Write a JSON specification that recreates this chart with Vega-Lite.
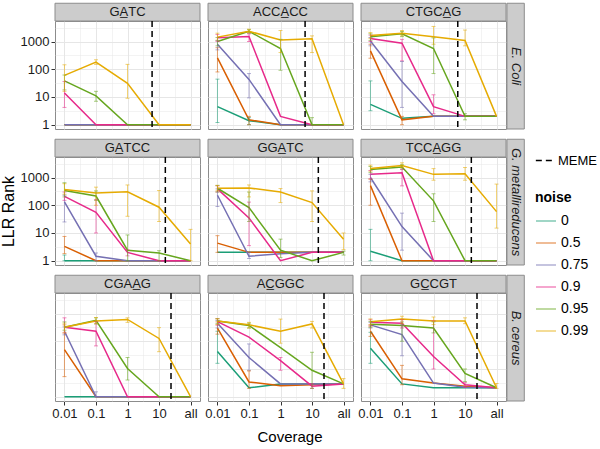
{
"$schema": "https://vega.github.io/schema/vega-lite/v6.json",
"padding": {"left": 0, "top": 2, "right": 2, "bottom": 0},
"config": {"font": "Liberation Sans", "view": {"stroke": "#8c8c8c", "strokeWidth": 1},
  "axis": {"domain": false, "gridColor": "#e6e6e6", "labelColor": "#1a1a1a", "tickColor": "#333333", "titleFontWeight": "normal", "titleColor": "#000000", "labelOverlap": false},
  "legend": {"symbolType": "stroke", "labelFontSize": 14, "titleFontSize": 14, "titleFontWeight": "bold", "symbolSize": 400, "symbolStrokeWidth": 1.5, "rowPadding": 4}},
"datasets": {"d": [
{"o":"E","m":"GATC","t":"GA\u0332TC","meme":2.78,"lab":"E. Coli","last":false},
{"o":"E","m":"ACCACC","t":"ACCA\u0332CC","meme":2.78,"lab":"E. Coli","last":false},
{"o":"E","m":"CTGCAG","t":"CTGCA\u0332G","meme":2.77,"lab":"E. Coli","last":true},
{"o":"G","m":"GATCC","t":"GA\u0332TCC","meme":3.2,"lab":"G. metallireducens","last":false},
{"o":"G","m":"GGATC","t":"GGA\u0332TC","meme":3.2,"lab":"G. metallireducens","last":false},
{"o":"G","m":"TCCAGG","t":"TCCA\u0332GG","meme":3.2,"lab":"G. metallireducens","last":true},
{"o":"B","m":"CGAAG","t":"CGAA\u0332G","meme":3.38,"lab":"B. cereus","last":false},
{"o":"B","m":"ACGGC","t":"AC\u0332GGC","meme":3.38,"lab":"B. cereus","last":false},
{"o":"B","m":"GCCGT","t":"GC\u0332CGT","meme":3.38,"lab":"B. cereus","last":true},

{"o":"E","m":"GATC","n":"0","c":0,"r":1},{"o":"E","m":"GATC","n":"0","c":1,"r":1},{"o":"E","m":"GATC","n":"0","c":2,"r":1},{"o":"E","m":"GATC","n":"0","c":3,"r":1},{"o":"E","m":"GATC","n":"0","c":4,"r":1},
{"o":"E","m":"GATC","n":"0.5","c":0,"r":1},{"o":"E","m":"GATC","n":"0.5","c":1,"r":1},{"o":"E","m":"GATC","n":"0.5","c":2,"r":1},{"o":"E","m":"GATC","n":"0.5","c":3,"r":1},{"o":"E","m":"GATC","n":"0.5","c":4,"r":1},
{"o":"E","m":"GATC","n":"0.75","c":0,"r":1},{"o":"E","m":"GATC","n":"0.75","c":1,"r":1},{"o":"E","m":"GATC","n":"0.75","c":2,"r":1},{"o":"E","m":"GATC","n":"0.75","c":3,"r":1},{"o":"E","m":"GATC","n":"0.75","c":4,"r":1},
{"o":"E","m":"GATC","n":"0.9","c":0,"r":14,"lo":4.2,"hi":36},{"o":"E","m":"GATC","n":"0.9","c":1,"r":1},{"o":"E","m":"GATC","n":"0.9","c":2,"r":1},{"o":"E","m":"GATC","n":"0.9","c":3,"r":1},{"o":"E","m":"GATC","n":"0.9","c":4,"r":1},
{"o":"E","m":"GATC","n":"0.95","c":0,"r":38,"lo":18,"hi":62},{"o":"E","m":"GATC","n":"0.95","c":1,"r":11,"lo":7,"hi":16},{"o":"E","m":"GATC","n":"0.95","c":2,"r":1},{"o":"E","m":"GATC","n":"0.95","c":3,"r":1},{"o":"E","m":"GATC","n":"0.95","c":4,"r":1},
{"o":"E","m":"GATC","n":"0.99","c":0,"r":60,"lo":16,"hi":145},{"o":"E","m":"GATC","n":"0.99","c":1,"r":180,"lo":150,"hi":220},{"o":"E","m":"GATC","n":"0.99","c":2,"r":31,"lo":9,"hi":150},{"o":"E","m":"GATC","n":"0.99","c":3,"r":1},{"o":"E","m":"GATC","n":"0.99","c":4,"r":1},

{"o":"E","m":"ACCACC","n":"0","c":0,"r":4.5,"lo":1.2,"hi":44},{"o":"E","m":"ACCACC","n":"0","c":1,"r":1.4,"lo":1,"hi":1.8},{"o":"E","m":"ACCACC","n":"0","c":2,"r":1},{"o":"E","m":"ACCACC","n":"0","c":3,"r":1},{"o":"E","m":"ACCACC","n":"0","c":4,"r":1},
{"o":"E","m":"ACCACC","n":"0.5","c":0,"r":256,"lo":80,"hi":600},{"o":"E","m":"ACCACC","n":"0.5","c":1,"r":1.5,"lo":1,"hi":2},{"o":"E","m":"ACCACC","n":"0.5","c":2,"r":1},{"o":"E","m":"ACCACC","n":"0.5","c":3,"r":1},{"o":"E","m":"ACCACC","n":"0.5","c":4,"r":1},
{"o":"E","m":"ACCACC","n":"0.75","c":0,"r":790,"lo":500,"hi":1100},{"o":"E","m":"ACCACC","n":"0.75","c":1,"r":43,"lo":9.3,"hi":70},{"o":"E","m":"ACCACC","n":"0.75","c":2,"r":1},{"o":"E","m":"ACCACC","n":"0.75","c":3,"r":1},{"o":"E","m":"ACCACC","n":"0.75","c":4,"r":1},
{"o":"E","m":"ACCACC","n":"0.9","c":0,"r":1360,"lo":1000,"hi":1800},{"o":"E","m":"ACCACC","n":"0.9","c":1,"r":1520,"lo":1000,"hi":1900},{"o":"E","m":"ACCACC","n":"0.9","c":2,"r":2},{"o":"E","m":"ACCACC","n":"0.9","c":3,"r":1},{"o":"E","m":"ACCACC","n":"0.9","c":4,"r":1},
{"o":"E","m":"ACCACC","n":"0.95","c":0,"r":1000,"lo":700,"hi":1400},{"o":"E","m":"ACCACC","n":"0.95","c":1,"r":2350,"lo":2000,"hi":2700},{"o":"E","m":"ACCACC","n":"0.95","c":2,"r":560,"lo":92,"hi":1200},{"o":"E","m":"ACCACC","n":"0.95","c":3,"r":1,"lo":1,"hi":1.8},{"o":"E","m":"ACCACC","n":"0.95","c":4,"r":1},
{"o":"E","m":"ACCACC","n":"0.99","c":0,"r":1440,"lo":1100,"hi":2000},{"o":"E","m":"ACCACC","n":"0.99","c":1,"r":2350,"lo":2100,"hi":2800},{"o":"E","m":"ACCACC","n":"0.99","c":2,"r":1130,"lo":400,"hi":2500},{"o":"E","m":"ACCACC","n":"0.99","c":3,"r":1260,"lo":400,"hi":1600},{"o":"E","m":"ACCACC","n":"0.99","c":4,"r":1},

{"o":"E","m":"CTGCAG","n":"0","c":0,"r":5.4,"lo":3.2,"hi":38},{"o":"E","m":"CTGCAG","n":"0","c":1,"r":1.7},{"o":"E","m":"CTGCAG","n":"0","c":2,"r":2},{"o":"E","m":"CTGCAG","n":"0","c":3,"r":2},{"o":"E","m":"CTGCAG","n":"0","c":4,"r":2},
{"o":"E","m":"CTGCAG","n":"0.5","c":0,"r":460,"lo":250,"hi":800},{"o":"E","m":"CTGCAG","n":"0.5","c":1,"r":1.5,"lo":1,"hi":2},{"o":"E","m":"CTGCAG","n":"0.5","c":2,"r":2},{"o":"E","m":"CTGCAG","n":"0.5","c":3,"r":2},{"o":"E","m":"CTGCAG","n":"0.5","c":4,"r":2},
{"o":"E","m":"CTGCAG","n":"0.75","c":0,"r":1040,"lo":700,"hi":1400},{"o":"E","m":"CTGCAG","n":"0.75","c":1,"r":36,"lo":4.2,"hi":190},{"o":"E","m":"CTGCAG","n":"0.75","c":2,"r":2},{"o":"E","m":"CTGCAG","n":"0.75","c":3,"r":2},{"o":"E","m":"CTGCAG","n":"0.75","c":4,"r":2},
{"o":"E","m":"CTGCAG","n":"0.9","c":0,"r":1290,"lo":1000,"hi":1700},{"o":"E","m":"CTGCAG","n":"0.9","c":1,"r":870,"lo":200,"hi":1200},{"o":"E","m":"CTGCAG","n":"0.9","c":2,"r":4.5,"lo":2.5,"hi":12},{"o":"E","m":"CTGCAG","n":"0.9","c":3,"r":2},{"o":"E","m":"CTGCAG","n":"0.9","c":4,"r":2},
{"o":"E","m":"CTGCAG","n":"0.95","c":0,"r":1480,"lo":1100,"hi":1900},{"o":"E","m":"CTGCAG","n":"0.95","c":1,"r":1900,"lo":1500,"hi":2300},{"o":"E","m":"CTGCAG","n":"0.95","c":2,"r":560,"lo":70,"hi":1350},{"o":"E","m":"CTGCAG","n":"0.95","c":3,"r":2,"lo":1.5,"hi":2.5},{"o":"E","m":"CTGCAG","n":"0.95","c":4,"r":2},
{"o":"E","m":"CTGCAG","n":"0.99","c":0,"r":1650,"lo":1300,"hi":2100},{"o":"E","m":"CTGCAG","n":"0.99","c":1,"r":2000,"lo":1600,"hi":2500},{"o":"E","m":"CTGCAG","n":"0.99","c":2,"r":1480,"lo":800,"hi":3500},{"o":"E","m":"CTGCAG","n":"0.99","c":3,"r":1100,"lo":700,"hi":2600},{"o":"E","m":"CTGCAG","n":"0.99","c":4,"r":2},

{"o":"G","m":"GATCC","n":"0","c":0,"r":1,"lo":1,"hi":1.6},{"o":"G","m":"GATCC","n":"0","c":1,"r":1},{"o":"G","m":"GATCC","n":"0","c":2,"r":1},{"o":"G","m":"GATCC","n":"0","c":3,"r":1},{"o":"G","m":"GATCC","n":"0","c":4,"r":1},
{"o":"G","m":"GATCC","n":"0.5","c":0,"r":3.3,"lo":1.8,"hi":7.5},{"o":"G","m":"GATCC","n":"0.5","c":1,"r":1},{"o":"G","m":"GATCC","n":"0.5","c":2,"r":1},{"o":"G","m":"GATCC","n":"0.5","c":3,"r":1},{"o":"G","m":"GATCC","n":"0.5","c":4,"r":1},
{"o":"G","m":"GATCC","n":"0.75","c":0,"r":133,"lo":25,"hi":230},{"o":"G","m":"GATCC","n":"0.75","c":1,"r":1.45,"lo":1,"hi":1.9},{"o":"G","m":"GATCC","n":"0.75","c":2,"r":1},{"o":"G","m":"GATCC","n":"0.75","c":3,"r":1},{"o":"G","m":"GATCC","n":"0.75","c":4,"r":1},
{"o":"G","m":"GATCC","n":"0.9","c":0,"r":210,"lo":150,"hi":300},{"o":"G","m":"GATCC","n":"0.9","c":1,"r":56,"lo":10,"hi":160},{"o":"G","m":"GATCC","n":"0.9","c":2,"r":2,"lo":1.5,"hi":2.5},{"o":"G","m":"GATCC","n":"0.9","c":3,"r":1},{"o":"G","m":"GATCC","n":"0.9","c":4,"r":1},
{"o":"G","m":"GATCC","n":"0.95","c":0,"r":340,"lo":200,"hi":650},{"o":"G","m":"GATCC","n":"0.95","c":1,"r":215,"lo":150,"hi":330},{"o":"G","m":"GATCC","n":"0.95","c":2,"r":2.4,"lo":1,"hi":8.5},{"o":"G","m":"GATCC","n":"0.95","c":3,"r":1.9,"lo":1,"hi":2.3},{"o":"G","m":"GATCC","n":"0.95","c":4,"r":1},
{"o":"G","m":"GATCC","n":"0.99","c":0,"r":370,"lo":250,"hi":600},{"o":"G","m":"GATCC","n":"0.99","c":1,"r":275,"lo":100,"hi":450},{"o":"G","m":"GATCC","n":"0.99","c":2,"r":305,"lo":40,"hi":540},{"o":"G","m":"GATCC","n":"0.99","c":3,"r":85,"lo":26,"hi":340},{"o":"G","m":"GATCC","n":"0.99","c":4,"r":4,"lo":1,"hi":13.5},

{"o":"G","m":"GGATC","n":"0","c":0,"r":2},{"o":"G","m":"GGATC","n":"0","c":1,"r":2},{"o":"G","m":"GGATC","n":"0","c":2,"r":2},{"o":"G","m":"GGATC","n":"0","c":3,"r":2},{"o":"G","m":"GGATC","n":"0","c":4,"r":2},
{"o":"G","m":"GGATC","n":"0.5","c":0,"r":4.3,"lo":2,"hi":8},{"o":"G","m":"GGATC","n":"0.5","c":1,"r":2},{"o":"G","m":"GGATC","n":"0.5","c":2,"r":2},{"o":"G","m":"GGATC","n":"0.5","c":3,"r":2},{"o":"G","m":"GGATC","n":"0.5","c":4,"r":2},
{"o":"G","m":"GGATC","n":"0.75","c":0,"r":230,"lo":90,"hi":390},{"o":"G","m":"GGATC","n":"0.75","c":1,"r":1.45,"lo":1.2,"hi":2},{"o":"G","m":"GGATC","n":"0.75","c":2,"r":1.8},{"o":"G","m":"GGATC","n":"0.75","c":3,"r":2},{"o":"G","m":"GGATC","n":"0.75","c":4,"r":2},
{"o":"G","m":"GGATC","n":"0.9","c":0,"r":390,"lo":300,"hi":500},{"o":"G","m":"GGATC","n":"0.9","c":1,"r":35,"lo":3.5,"hi":130},{"o":"G","m":"GGATC","n":"0.9","c":2,"r":1},{"o":"G","m":"GGATC","n":"0.9","c":3,"r":2},{"o":"G","m":"GGATC","n":"0.9","c":4,"r":2},
{"o":"G","m":"GGATC","n":"0.95","c":0,"r":410,"lo":300,"hi":520},{"o":"G","m":"GGATC","n":"0.95","c":1,"r":82,"lo":26,"hi":300},{"o":"G","m":"GGATC","n":"0.95","c":2,"r":2.4,"lo":1.3,"hi":6},{"o":"G","m":"GGATC","n":"0.95","c":3,"r":1},{"o":"G","m":"GGATC","n":"0.95","c":4,"r":2,"lo":1.6,"hi":2.2},
{"o":"G","m":"GGATC","n":"0.99","c":0,"r":410,"lo":330,"hi":520},{"o":"G","m":"GGATC","n":"0.99","c":1,"r":420,"lo":200,"hi":540},{"o":"G","m":"GGATC","n":"0.99","c":2,"r":300,"lo":125,"hi":400},{"o":"G","m":"GGATC","n":"0.99","c":3,"r":125,"lo":26,"hi":330},{"o":"G","m":"GGATC","n":"0.99","c":4,"r":5.9,"lo":2.5,"hi":10},

{"o":"G","m":"TCCAGG","n":"0","c":0,"r":2.2,"lo":1,"hi":13.5},{"o":"G","m":"TCCAGG","n":"0","c":1,"r":1},{"o":"G","m":"TCCAGG","n":"0","c":2,"r":1},{"o":"G","m":"TCCAGG","n":"0","c":3,"r":1},{"o":"G","m":"TCCAGG","n":"0","c":4,"r":1},
{"o":"G","m":"TCCAGG","n":"0.5","c":0,"r":510,"lo":100,"hi":870},{"o":"G","m":"TCCAGG","n":"0.5","c":1,"r":1},{"o":"G","m":"TCCAGG","n":"0.5","c":2,"r":1},{"o":"G","m":"TCCAGG","n":"0.5","c":3,"r":1},{"o":"G","m":"TCCAGG","n":"0.5","c":4,"r":1},
{"o":"G","m":"TCCAGG","n":"0.75","c":0,"r":1000,"lo":700,"hi":1300},{"o":"G","m":"TCCAGG","n":"0.75","c":1,"r":17,"lo":2.4,"hi":52},{"o":"G","m":"TCCAGG","n":"0.75","c":2,"r":1},{"o":"G","m":"TCCAGG","n":"0.75","c":3,"r":1},{"o":"G","m":"TCCAGG","n":"0.75","c":4,"r":1},
{"o":"G","m":"TCCAGG","n":"0.9","c":0,"r":1300,"lo":900,"hi":1800},{"o":"G","m":"TCCAGG","n":"0.9","c":1,"r":1490,"lo":500,"hi":2000},{"o":"G","m":"TCCAGG","n":"0.9","c":2,"r":1},{"o":"G","m":"TCCAGG","n":"0.9","c":3,"r":1},{"o":"G","m":"TCCAGG","n":"0.9","c":4,"r":1},
{"o":"G","m":"TCCAGG","n":"0.95","c":0,"r":1950,"lo":1500,"hi":2500},{"o":"G","m":"TCCAGG","n":"0.95","c":1,"r":2400,"lo":2000,"hi":2900},{"o":"G","m":"TCCAGG","n":"0.95","c":2,"r":144,"lo":26,"hi":260},{"o":"G","m":"TCCAGG","n":"0.95","c":3,"r":1},{"o":"G","m":"TCCAGG","n":"0.95","c":4,"r":1},
{"o":"G","m":"TCCAGG","n":"0.99","c":0,"r":2130,"lo":1700,"hi":2800},{"o":"G","m":"TCCAGG","n":"0.99","c":1,"r":2700,"lo":2300,"hi":3400},{"o":"G","m":"TCCAGG","n":"0.99","c":2,"r":1300,"lo":800,"hi":2100},{"o":"G","m":"TCCAGG","n":"0.99","c":3,"r":1380,"lo":800,"hi":2300},{"o":"G","m":"TCCAGG","n":"0.99","c":4,"r":59,"lo":15,"hi":580},

{"o":"B","m":"CGAAG","n":"0","c":0,"r":1},{"o":"B","m":"CGAAG","n":"0","c":1,"r":1},{"o":"B","m":"CGAAG","n":"0","c":2,"r":1},{"o":"B","m":"CGAAG","n":"0","c":3,"r":1},{"o":"B","m":"CGAAG","n":"0","c":4,"r":1},
{"o":"B","m":"CGAAG","n":"0.5","c":0,"r":50,"lo":5.3,"hi":390},{"o":"B","m":"CGAAG","n":"0.5","c":1,"r":1},{"o":"B","m":"CGAAG","n":"0.5","c":2,"r":1},{"o":"B","m":"CGAAG","n":"0.5","c":3,"r":1},{"o":"B","m":"CGAAG","n":"0.5","c":4,"r":1},
{"o":"B","m":"CGAAG","n":"0.75","c":0,"r":230,"lo":170,"hi":330},{"o":"B","m":"CGAAG","n":"0.75","c":1,"r":1,"lo":1,"hi":1.5},{"o":"B","m":"CGAAG","n":"0.75","c":2,"r":1},{"o":"B","m":"CGAAG","n":"0.75","c":3,"r":1},{"o":"B","m":"CGAAG","n":"0.75","c":4,"r":1},
{"o":"B","m":"CGAAG","n":"0.9","c":0,"r":320,"lo":200,"hi":700},{"o":"B","m":"CGAAG","n":"0.9","c":1,"r":230,"lo":68,"hi":510},{"o":"B","m":"CGAAG","n":"0.9","c":2,"r":1},{"o":"B","m":"CGAAG","n":"0.9","c":3,"r":1},{"o":"B","m":"CGAAG","n":"0.9","c":4,"r":1},
{"o":"B","m":"CGAAG","n":"0.95","c":0,"r":320,"lo":250,"hi":500},{"o":"B","m":"CGAAG","n":"0.95","c":1,"r":570,"lo":420,"hi":700},{"o":"B","m":"CGAAG","n":"0.95","c":2,"r":10.4,"lo":4,"hi":26},{"o":"B","m":"CGAAG","n":"0.95","c":3,"r":1},{"o":"B","m":"CGAAG","n":"0.95","c":4,"r":1},
{"o":"B","m":"CGAAG","n":"0.99","c":0,"r":320,"lo":200,"hi":450},{"o":"B","m":"CGAAG","n":"0.99","c":1,"r":540,"lo":430,"hi":720},{"o":"B","m":"CGAAG","n":"0.99","c":2,"r":610,"lo":480,"hi":700},{"o":"B","m":"CGAAG","n":"0.99","c":3,"r":126,"lo":42,"hi":310},{"o":"B","m":"CGAAG","n":"0.99","c":4,"r":1},

{"o":"B","m":"ACGGC","n":"0","c":0,"r":43,"lo":16,"hi":230},{"o":"B","m":"ACGGC","n":"0","c":1,"r":2.1},{"o":"B","m":"ACGGC","n":"0","c":2,"r":2.85},{"o":"B","m":"ACGGC","n":"0","c":3,"r":2.85},{"o":"B","m":"ACGGC","n":"0","c":4,"r":2.9},
{"o":"B","m":"ACGGC","n":"0.5","c":0,"r":300,"lo":180,"hi":500},{"o":"B","m":"ACGGC","n":"0.5","c":1,"r":3.4,"lo":2,"hi":8.5},{"o":"B","m":"ACGGC","n":"0.5","c":2,"r":2.5},{"o":"B","m":"ACGGC","n":"0.5","c":3,"r":2.7},{"o":"B","m":"ACGGC","n":"0.5","c":4,"r":2.9},
{"o":"B","m":"ACGGC","n":"0.75","c":0,"r":445,"lo":300,"hi":560},{"o":"B","m":"ACGGC","n":"0.75","c":1,"r":26,"lo":9,"hi":80},{"o":"B","m":"ACGGC","n":"0.75","c":2,"r":2.9},{"o":"B","m":"ACGGC","n":"0.75","c":3,"r":2.9},{"o":"B","m":"ACGGC","n":"0.75","c":4,"r":2.9},
{"o":"B","m":"ACGGC","n":"0.9","c":0,"r":510,"lo":380,"hi":650},{"o":"B","m":"ACGGC","n":"0.9","c":1,"r":140},{"o":"B","m":"ACGGC","n":"0.9","c":2,"r":20,"lo":9,"hi":26},{"o":"B","m":"ACGGC","n":"0.9","c":3,"r":2.4,"lo":2,"hi":3},{"o":"B","m":"ACGGC","n":"0.9","c":4,"r":2.9},
{"o":"B","m":"ACGGC","n":"0.95","c":0,"r":540,"lo":430,"hi":650},{"o":"B","m":"ACGGC","n":"0.95","c":1,"r":370,"lo":300,"hi":450},{"o":"B","m":"ACGGC","n":"0.95","c":2,"r":59},{"o":"B","m":"ACGGC","n":"0.95","c":3,"r":9,"lo":2,"hi":40},{"o":"B","m":"ACGGC","n":"0.95","c":4,"r":2.9},
{"o":"B","m":"ACGGC","n":"0.99","c":0,"r":540,"lo":400,"hi":650},{"o":"B","m":"ACGGC","n":"0.99","c":1,"r":390,"lo":300,"hi":480},{"o":"B","m":"ACGGC","n":"0.99","c":2,"r":230,"lo":85,"hi":630},{"o":"B","m":"ACGGC","n":"0.99","c":3,"r":420,"lo":300,"hi":520},{"o":"B","m":"ACGGC","n":"0.99","c":4,"r":2.9,"lo":2,"hi":4.5},

{"o":"B","m":"GCCGT","n":"0","c":0,"r":56,"lo":16,"hi":210},{"o":"B","m":"GCCGT","n":"0","c":1,"r":2.9},{"o":"B","m":"GCCGT","n":"0","c":2,"r":2.1},{"o":"B","m":"GCCGT","n":"0","c":3,"r":2.1},{"o":"B","m":"GCCGT","n":"0","c":4,"r":2.1},
{"o":"B","m":"GCCGT","n":"0.5","c":0,"r":230,"lo":150,"hi":350},{"o":"B","m":"GCCGT","n":"0.5","c":1,"r":4.4,"lo":2.7,"hi":13.5},{"o":"B","m":"GCCGT","n":"0.5","c":2,"r":3.1},{"o":"B","m":"GCCGT","n":"0.5","c":3,"r":2.4},{"o":"B","m":"GCCGT","n":"0.5","c":4,"r":2.1},
{"o":"B","m":"GCCGT","n":"0.75","c":0,"r":390,"lo":300,"hi":480},{"o":"B","m":"GCCGT","n":"0.75","c":1,"r":175,"lo":30,"hi":390},{"o":"B","m":"GCCGT","n":"0.75","c":2,"r":3.1},{"o":"B","m":"GCCGT","n":"0.75","c":3,"r":2.2},{"o":"B","m":"GCCGT","n":"0.75","c":4,"r":2.1},
{"o":"B","m":"GCCGT","n":"0.9","c":0,"r":480,"lo":380,"hi":600},{"o":"B","m":"GCCGT","n":"0.9","c":1,"r":445,"lo":300,"hi":600},{"o":"B","m":"GCCGT","n":"0.9","c":2,"r":28,"lo":10,"hi":550},{"o":"B","m":"GCCGT","n":"0.9","c":3,"r":2.7,"lo":2.2,"hi":3.2},{"o":"B","m":"GCCGT","n":"0.9","c":4,"r":2.1},
{"o":"B","m":"GCCGT","n":"0.95","c":0,"r":410,"lo":320,"hi":520},{"o":"B","m":"GCCGT","n":"0.95","c":1,"r":370,"lo":100,"hi":500},{"o":"B","m":"GCCGT","n":"0.95","c":2,"r":300,"lo":200,"hi":500},{"o":"B","m":"GCCGT","n":"0.95","c":3,"r":6.9,"lo":3.5,"hi":10},{"o":"B","m":"GCCGT","n":"0.95","c":4,"r":2.1},
{"o":"B","m":"GCCGT","n":"0.99","c":0,"r":510,"lo":400,"hi":640},{"o":"B","m":"GCCGT","n":"0.99","c":1,"r":630,"lo":430,"hi":800},{"o":"B","m":"GCCGT","n":"0.99","c":2,"r":540,"lo":400,"hi":750},{"o":"B","m":"GCCGT","n":"0.99","c":3,"r":540,"lo":430,"hi":700},{"o":"B","m":"GCCGT","n":"0.99","c":4,"r":2.1,"lo":2,"hi":3}
]},
"spacing": 6,
"resolve": {"scale": {"color": "shared", "strokeDash": "shared"}, "legend": {"color": "shared", "strokeDash": "shared"}},
"vconcat": [
{
 "data": {"name": "d"},
 "transform": [{"filter": "datum.o == 'E'"}],
 "facet": {"column": {"field": "m", "type": "nominal", "sort": ["GATC","ACCACC","CTGCAG"], "header": {"labels": false, "title": null}}},
 "spacing": 8,
 "bounds": "flush",
 "spec": {"width": 145, "height": 108, "layer": [
  {"transform": [{"filter": "isValid(datum.r)"}], "mark": {"type": "line", "strokeWidth": 1.5},
   "encoding": {
    "x": {"field": "c", "type": "quantitative", "scale": {"domain": [-0.3, 4.3], "nice": false, "zero": false},
      "axis": {"values": [0,0.5,1,1.5,2,2.5,3,3.5,4], "tickCount": 9, "labels": false, "ticks": false, "title": null, "gridWidth": {"condition": {"test": "datum.value % 1 == 0", "value": 1}, "value": 0.5}}},
    "y": {"field": "r", "type": "quantitative", "scale": {"type": "log", "domain": [0.7, 5500], "nice": false},
      "axis": {"values": [1,3.1623,10,31.623,100,316.23,1000,3162.3], "labelFontSize": 13, "labelPadding": 2, "tickSize": 4,
        "labelExpr": "abs(log(datum.value)/LN10 - round(log(datum.value)/LN10)) < 0.01 ? format(datum.value, 'd') : ''",
        "tickColor": {"condition": {"test": "abs(log(datum.value)/LN10 - round(log(datum.value)/LN10)) < 0.01", "value": "#333333"}, "value": "transparent"},
        "gridWidth": {"condition": {"test": "abs(log(datum.value)/LN10 - round(log(datum.value)/LN10)) < 0.01", "value": 1}, "value": 0.5},
        "title": "LLR Rank", "titleFontSize": 16, "titleColor": "transparent"}},
    "color": {"field": "n", "type": "nominal", "scale": {"domain": ["0","0.5","0.75","0.9","0.95","0.99"], "range": ["#1b9e77","#d95f02","#7570b3","#e7298a","#66a61e","#e6ab02"]},
      "legend": {"title": "noise", "orient": "none", "legendX": 480, "legendY": 170}}}},
  {"transform": [{"filter": "isValid(datum.meme)"}], "mark": {"type": "rect", "fill": "#cccccc", "stroke": "#8c8c8c", "strokeWidth": 1, "clip": false},
   "encoding": {"x": {"datum": -0.3, "type": "quantitative"}, "x2": {"datum": 4.3}, "y": {"datum": 5500, "type": "quantitative"}, "y2": {"datum": 24000}}},
  {"transform": [{"filter": "isValid(datum.meme)"}], "mark": {"type": "text", "fontSize": 13, "color": "#1a1a1a", "baseline": "middle", "clip": false},
   "encoding": {"x": {"datum": 2, "type": "quantitative"}, "y": {"datum": 11500, "type": "quantitative"}, "text": {"field": "t"}}},
  {"transform": [{"filter": "datum.last === true"}], "mark": {"type": "rect", "fill": "#cccccc", "stroke": "#8c8c8c", "strokeWidth": 1, "clip": false},
   "encoding": {"x": {"datum": 4.33, "type": "quantitative"}, "x2": {"datum": 4.88}, "y": {"datum": 0.7, "type": "quantitative"}, "y2": {"datum": 24000}}},
  {"transform": [{"filter": "datum.last === true"}], "mark": {"type": "text", "fontSize": 13, "fontStyle": "italic", "angle": 90, "color": "#1a1a1a", "baseline": "middle", "align": "center", "clip": false},
   "encoding": {"x": {"datum": 4.605, "type": "quantitative"}, "y": {"datum": 130, "type": "quantitative"}, "text": {"field": "lab"}}},
  {"transform": [{"filter": "isValid(datum.lo)"}], "mark": {"type": "errorbar", "opacity": 0.55, "thickness": 1, "ticks": {"size": 4}},
   "encoding": {"x": {"field": "c", "type": "quantitative", "title": null}, "y": {"field": "lo", "type": "quantitative", "title": "LLR Rank"}, "y2": {"field": "hi"}, "color": {"field": "n", "type": "nominal"}}},
  {"transform": [{"filter": "isValid(datum.meme)"}], "mark": {"type": "rule", "color": "#000000", "strokeWidth": 1.5},
   "encoding": {"x": {"field": "meme", "type": "quantitative", "title": null},
    "strokeDash": {"datum": "MEME", "type": "nominal", "scale": {"domain": ["MEME"], "range": [[6,4]]}, "legend": {"title": null, "orient": "none", "legendX": 480, "legendY": 130, "symbolStrokeColor": "#000000", "symbolSize": 300, "labelFontSize": 13}}}}
 ]}
},
{
 "data": {"name": "d"},
 "transform": [{"filter": "datum.o == 'G'"}],
 "facet": {"column": {"field": "m", "type": "nominal", "sort": ["GATCC","GGATC","TCCAGG"], "header": {"labels": false, "title": null}}},
 "spacing": 8,
 "bounds": "flush",
 "spec": {"width": 145, "height": 108, "layer": [
  {"transform": [{"filter": "isValid(datum.r)"}], "mark": {"type": "line", "strokeWidth": 1.5},
   "encoding": {
    "x": {"field": "c", "type": "quantitative", "scale": {"domain": [-0.3, 4.3], "nice": false, "zero": false},
      "axis": {"values": [0,0.5,1,1.5,2,2.5,3,3.5,4], "tickCount": 9, "labels": false, "ticks": false, "title": null, "gridWidth": {"condition": {"test": "datum.value % 1 == 0", "value": 1}, "value": 0.5}}},
    "y": {"field": "r", "type": "quantitative", "scale": {"type": "log", "domain": [0.7, 5500], "nice": false},
      "axis": {"values": [1,3.1623,10,31.623,100,316.23,1000,3162.3], "labelFontSize": 13, "labelPadding": 2, "tickSize": 4,
        "labelExpr": "abs(log(datum.value)/LN10 - round(log(datum.value)/LN10)) < 0.01 ? format(datum.value, 'd') : ''",
        "tickColor": {"condition": {"test": "abs(log(datum.value)/LN10 - round(log(datum.value)/LN10)) < 0.01", "value": "#333333"}, "value": "transparent"},
        "gridWidth": {"condition": {"test": "abs(log(datum.value)/LN10 - round(log(datum.value)/LN10)) < 0.01", "value": 1}, "value": 0.5},
        "title": "LLR Rank", "titleFontSize": 16, "titleColor": "#000000"}},
    "color": {"field": "n", "type": "nominal", "scale": {"domain": ["0","0.5","0.75","0.9","0.95","0.99"], "range": ["#1b9e77","#d95f02","#7570b3","#e7298a","#66a61e","#e6ab02"]},
      "legend": {"title": "noise", "orient": "none", "legendX": 480, "legendY": 170}}}},
  {"transform": [{"filter": "isValid(datum.meme)"}], "mark": {"type": "rect", "fill": "#cccccc", "stroke": "#8c8c8c", "strokeWidth": 1, "clip": false},
   "encoding": {"x": {"datum": -0.3, "type": "quantitative"}, "x2": {"datum": 4.3}, "y": {"datum": 5500, "type": "quantitative"}, "y2": {"datum": 24000}}},
  {"transform": [{"filter": "isValid(datum.meme)"}], "mark": {"type": "text", "fontSize": 13, "color": "#1a1a1a", "baseline": "middle", "clip": false},
   "encoding": {"x": {"datum": 2, "type": "quantitative"}, "y": {"datum": 11500, "type": "quantitative"}, "text": {"field": "t"}}},
  {"transform": [{"filter": "datum.last === true"}], "mark": {"type": "rect", "fill": "#cccccc", "stroke": "#8c8c8c", "strokeWidth": 1, "clip": false},
   "encoding": {"x": {"datum": 4.33, "type": "quantitative"}, "x2": {"datum": 4.88}, "y": {"datum": 0.7, "type": "quantitative"}, "y2": {"datum": 24000}}},
  {"transform": [{"filter": "datum.last === true"}], "mark": {"type": "text", "fontSize": 13, "fontStyle": "italic", "angle": 90, "color": "#1a1a1a", "baseline": "middle", "align": "center", "clip": false},
   "encoding": {"x": {"datum": 4.605, "type": "quantitative"}, "y": {"datum": 130, "type": "quantitative"}, "text": {"field": "lab"}}},
  {"transform": [{"filter": "isValid(datum.lo)"}], "mark": {"type": "errorbar", "opacity": 0.55, "thickness": 1, "ticks": {"size": 4}},
   "encoding": {"x": {"field": "c", "type": "quantitative", "title": null}, "y": {"field": "lo", "type": "quantitative", "title": "LLR Rank"}, "y2": {"field": "hi"}, "color": {"field": "n", "type": "nominal"}}},
  {"transform": [{"filter": "isValid(datum.meme)"}], "mark": {"type": "rule", "color": "#000000", "strokeWidth": 1.5},
   "encoding": {"x": {"field": "meme", "type": "quantitative", "title": null},
    "strokeDash": {"datum": "MEME", "type": "nominal", "scale": {"domain": ["MEME"], "range": [[6,4]]}, "legend": {"title": null, "orient": "none", "legendX": 480, "legendY": 130, "symbolStrokeColor": "#000000", "symbolSize": 300, "labelFontSize": 13}}}}
 ]}
},
{
 "data": {"name": "d"},
 "transform": [{"filter": "datum.o == 'B'"}],
 "facet": {"column": {"field": "m", "type": "nominal", "title": "Coverage", "sort": ["CGAAG","ACGGC","GCCGT"], "header": {"labels": false, "titleOrient": "bottom", "titleFontSize": 15, "titleFontWeight": "normal", "titlePadding": 0, "titleColor": "#000000"}}},
 "spacing": 8,
 "bounds": "flush",
 "spec": {"width": 145, "height": 108, "layer": [
  {"transform": [{"filter": "isValid(datum.r)"}], "mark": {"type": "line", "strokeWidth": 1.5},
   "encoding": {
    "x": {"field": "c", "type": "quantitative", "scale": {"domain": [-0.3, 4.3], "nice": false, "zero": false},
      "axis": {"values": [0,0.5,1,1.5,2,2.5,3,3.5,4], "tickCount": 9, "labelFlush": false, "labelFontSize": 13, "labelPadding": 2, "tickSize": 4, "labelOverlap": false, "labelSeparation": -60, "labelBound": false,
        "labelExpr": "datum.value % 1 != 0 ? '' : ['0.01','0.1','1','10','all'][round(datum.value)]",
        "tickColor": {"condition": {"test": "datum.value % 1 == 0", "value": "#333333"}, "value": "transparent"},
        "title": null, "gridWidth": {"condition": {"test": "datum.value % 1 == 0", "value": 1}, "value": 0.5}}},
    "y": {"field": "r", "type": "quantitative", "scale": {"type": "log", "domain": [0.7, 5500], "nice": false},
      "axis": {"values": [1,3.1623,10,31.623,100,316.23,1000,3162.3], "labelFontSize": 13, "labelPadding": 2, "tickSize": 4,
        "labelExpr": "abs(log(datum.value)/LN10 - round(log(datum.value)/LN10)) < 0.01 ? format(datum.value, 'd') : ''",
        "labelColor": "transparent", "tickColor": "transparent",
        "gridWidth": {"condition": {"test": "abs(log(datum.value)/LN10 - round(log(datum.value)/LN10)) < 0.01", "value": 1}, "value": 0.5},
        "title": "LLR Rank", "titleFontSize": 16, "titleColor": "transparent"}},
    "color": {"field": "n", "type": "nominal", "scale": {"domain": ["0","0.5","0.75","0.9","0.95","0.99"], "range": ["#1b9e77","#d95f02","#7570b3","#e7298a","#66a61e","#e6ab02"]},
      "legend": {"title": "noise", "orient": "none", "legendX": 480, "legendY": 170}}}},
  {"transform": [{"filter": "isValid(datum.meme)"}], "mark": {"type": "rect", "fill": "#cccccc", "stroke": "#8c8c8c", "strokeWidth": 1, "clip": false},
   "encoding": {"x": {"datum": -0.3, "type": "quantitative"}, "x2": {"datum": 4.3}, "y": {"datum": 5500, "type": "quantitative"}, "y2": {"datum": 24000}}},
  {"transform": [{"filter": "isValid(datum.meme)"}], "mark": {"type": "text", "fontSize": 13, "color": "#1a1a1a", "baseline": "middle", "clip": false},
   "encoding": {"x": {"datum": 2, "type": "quantitative"}, "y": {"datum": 11500, "type": "quantitative"}, "text": {"field": "t"}}},
  {"transform": [{"filter": "datum.last === true"}], "mark": {"type": "rect", "fill": "#cccccc", "stroke": "#8c8c8c", "strokeWidth": 1, "clip": false},
   "encoding": {"x": {"datum": 4.33, "type": "quantitative"}, "x2": {"datum": 4.88}, "y": {"datum": 0.7, "type": "quantitative"}, "y2": {"datum": 24000}}},
  {"transform": [{"filter": "datum.last === true"}], "mark": {"type": "text", "fontSize": 13, "fontStyle": "italic", "angle": 90, "color": "#1a1a1a", "baseline": "middle", "align": "center", "clip": false},
   "encoding": {"x": {"datum": 4.605, "type": "quantitative"}, "y": {"datum": 130, "type": "quantitative"}, "text": {"field": "lab"}}},
  {"transform": [{"filter": "isValid(datum.lo)"}], "mark": {"type": "errorbar", "opacity": 0.55, "thickness": 1, "ticks": {"size": 4}},
   "encoding": {"x": {"field": "c", "type": "quantitative", "title": null,
      "axis": {"values": [0,0.5,1,1.5,2,2.5,3,3.5,4], "tickCount": 9, "labelFlush": false, "labelFontSize": 13, "labelPadding": 2, "tickSize": 4, "labelOverlap": false, "labelSeparation": -60, "labelBound": false,
        "labelExpr": "datum.value % 1 != 0 ? '' : ['0.01','0.1','1','10','all'][round(datum.value)]",
        "tickColor": {"condition": {"test": "datum.value % 1 == 0", "value": "#333333"}, "value": "transparent"},
        "title": null, "gridWidth": {"condition": {"test": "datum.value % 1 == 0", "value": 1}, "value": 0.5}}},
    "y": {"field": "lo", "type": "quantitative", "title": "LLR Rank"}, "y2": {"field": "hi"}, "color": {"field": "n", "type": "nominal"}}},
  {"transform": [{"filter": "isValid(datum.meme)"}], "mark": {"type": "rule", "color": "#000000", "strokeWidth": 1.5},
   "encoding": {"x": {"field": "meme", "type": "quantitative", "title": null,
      "axis": {"values": [0,0.5,1,1.5,2,2.5,3,3.5,4], "tickCount": 9, "labelFlush": false, "labelFontSize": 13, "labelPadding": 2, "tickSize": 4, "labelOverlap": false, "labelSeparation": -60, "labelBound": false,
        "labelExpr": "datum.value % 1 != 0 ? '' : ['0.01','0.1','1','10','all'][round(datum.value)]",
        "tickColor": {"condition": {"test": "datum.value % 1 == 0", "value": "#333333"}, "value": "transparent"},
        "title": null, "gridWidth": {"condition": {"test": "datum.value % 1 == 0", "value": 1}, "value": 0.5}}},
    "strokeDash": {"datum": "MEME", "type": "nominal", "scale": {"domain": ["MEME"], "range": [[6,4]]}, "legend": {"title": null, "orient": "none", "legendX": 480, "legendY": 130, "symbolStrokeColor": "#000000", "symbolSize": 300, "labelFontSize": 13}}}}
 ]}
}
]
}
